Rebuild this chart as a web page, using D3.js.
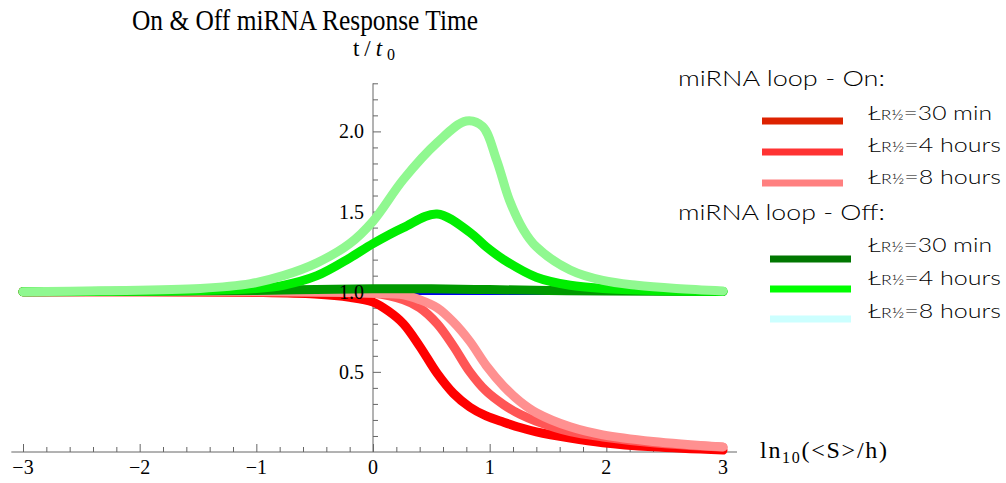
<!DOCTYPE html>
<html>
<head lang="en">
    <meta charset="UTF-8">
    <title> miRNA response time </title>
    <script type="text/javascript" src="https://cdn.jsdelivr.net/npm/d3@7"></script>
    <style>
        body { margin: 0; background: #fff; }
    </style>
</head>
<body>
<div id="chart"></div>
<script>

    // x = ln10(<S>/h), y = t/t0
    var onX30  = [-3, -2, -1, -0.5, -0.2, 0, 0.13, 0.26, 0.4, 0.55, 0.69, 0.83, 0.97, 1.12, 1.26, 1.4, 1.69, 1.97, 2.4, 3];
    var onY30  = [1.0, 0.999, 0.995, 0.985, 0.965, 0.935, 0.88, 0.8, 0.66, 0.49, 0.365, 0.28, 0.225, 0.186, 0.153, 0.126, 0.087, 0.058, 0.032, 0.012];

    var onX4h  = [-3, -2, -1, -0.5, 0, 0.26, 0.4, 0.55, 0.69, 0.83, 0.97, 1.12, 1.26, 1.4, 1.69, 1.97, 2.4, 3];
    var onY4h  = [1.0, 1.0, 0.999, 0.997, 0.99, 0.95, 0.9, 0.8, 0.66, 0.5, 0.38, 0.295, 0.235, 0.192, 0.127, 0.094, 0.058, 0.03];

    var onX8h  = [-3, -2, -1, -0.5, 0, 0.26, 0.4, 0.55, 0.69, 0.83, 0.97, 1.12, 1.26, 1.4, 1.69, 1.97, 2.4, 3];
    var onY8h  = [1.0, 1.0, 0.999, 0.998, 0.99, 0.98, 0.95, 0.9, 0.81, 0.69, 0.54, 0.41, 0.315, 0.245, 0.157, 0.107, 0.066, 0.032];

    var offX30 = [-3, -2, -1, 0, 0.5, 1, 1.5, 2, 3];
    var offY30 = [1.0, 1.003, 1.008, 1.018, 1.018, 1.013, 1.008, 1.004, 1.001];

    var offX4h = [-3, -2, -1.5, -1, -0.77, -0.48, -0.2, 0, 0.26, 0.55, 0.83, 0.97, 1.12, 1.4, 1.69, 1.97, 2.4, 3];
    var offY4h = [1.0, 1.003, 1.008, 1.02, 1.04, 1.1, 1.21, 1.3, 1.4, 1.485, 1.37, 1.28, 1.2, 1.09, 1.04, 1.02, 1.008, 1.002];

    var offX8h = [-3, -2.34, -1.48, -1.05, -0.77, -0.48, -0.2, 0, 0.26, 0.55, 0.8, 0.94, 1.06, 1.17, 1.29, 1.4, 1.69, 1.97, 2.26, 2.6, 3];
    var offY8h = [1.0, 1.006, 1.02, 1.05, 1.1, 1.18, 1.3, 1.44, 1.7, 1.93, 2.065, 2.03, 1.82, 1.57, 1.385, 1.28, 1.135, 1.07, 1.04, 1.02, 1.005];

    var baseX  = [0, 3];
    var baseY  = [0.995, 0.995];

    var xTicks = [-3, -2, -1, 0, 1, 2, 3];
    var yTicks = [0.5, 1.0, 1.5, 2.0];

    var legendOn  = ["30 min", "4 hours", "8 hours"];
    var legendOff = ["30 min", "4 hours", "8 hours"];

    // drawing order: first is at the bottom
    var series = [
        { xs: baseX,  ys: baseY,  color: "#0000ee", w: 5 },
        { xs: onX30,  ys: onY30,  color: "#ff0000", w: 9 },
        { xs: onX4h,  ys: onY4h,  color: "#ff5555", w: 9 },
        { xs: onX8h,  ys: onY8h,  color: "#ff9090", w: 9 },
        { xs: offX30, ys: offY30, color: "#009900", w: 9 },
        { xs: offX4h, ys: offY4h, color: "#00ee00", w: 9 },
        { xs: offX8h, ys: offY8h, color: "#90f890", w: 9 }
    ];

    var swatchOn  = ["#dd2200", "#ff3333", "#ff8080"];
    var swatchOff = ["#007700", "#00ff00", "#ccffff"];

    var width = 1006, height = 483;

    var svg = d3.select("#chart").append("svg")
            .attr("width", width)
            .attr("height", height);

    var x = d3.scaleLinear().domain([-3, 3]).range([23, 723]);
    var y = d3.scaleLinear().domain([0, 1]).range([452, 291.7]);

    var serif = "'Liberation Serif', 'Times New Roman', serif";
    var hand  = "Lato, 'Open Sans', sans-serif";

    // title
    svg.append("text")
            .attr("x", 132).attr("y", 30)
            .attr("textLength", 346).attr("lengthAdjust", "spacingAndGlyphs")
            .style("font-family", serif).style("font-size", "30px")
            .text("On & Off miRNA Response Time");

    var line = d3.line()
            .x(function (d) { return x(d[0]); })
            .y(function (d) { return y(d[1]); })
            .curve(d3.curveCatmullRom.alpha(0.5));

    // axes
    var axisCol = "#666";
    var yAxis = d3.axisRight(y)
            .tickValues(d3.range(0.1, 2.31, 0.1))
            .tickSize(5)
            .tickFormat("");
    var gy = svg.append("g").attr("transform", "translate(" + x(0) + ",0)").call(yAxis);
    gy.selectAll(".tick line")
            .attr("x2", function (d) { return Math.abs(d * 2 - Math.round(d * 2)) < 1e-6 ? 8 : 5; });
    gy.select(".domain").attr("d", "M0," + y(0) + "V" + y(2.3));

    var xAxis = d3.axisTop(x)
            .tickValues(d3.range(-3, 3.01, 0.2))
            .tickSize(5)
            .tickFormat("");
    var gx = svg.append("g").attr("transform", "translate(0," + y(0) + ")").call(xAxis);
    gx.selectAll(".tick line")
            .attr("y2", function (d) { return Math.abs(d - Math.round(d)) < 1e-6 ? -8 : -5; });
    gx.select(".domain").attr("d", "M" + x(-3.1) + ",0H" + x(3.12));

    svg.selectAll(".domain, .tick line").attr("stroke", axisCol).attr("stroke-width", 1);

    // curves
    svg.selectAll(".curve").data(series).enter().append("path")
            .attr("class", "curve")
            .attr("d", function (s) { return line(d3.zip(s.xs, s.ys)); })
            .attr("fill", "none")
            .attr("stroke", function (s) { return s.color; })
            .attr("stroke-width", function (s) { return s.w; })
            .attr("stroke-linecap", "round")
            .attr("stroke-linejoin", "round");

    // tick labels (on top of curves)
    svg.selectAll(".ylab").data(yTicks).enter().append("text")
            .attr("class", "ylab")
            .attr("x", x(0) - 9).attr("y", function (d) { return y(d) + 7; })
            .attr("text-anchor", "end")
            .style("font-family", serif).style("font-size", "20px")
            .text(function (d) { return d.toFixed(1); });

    svg.selectAll(".xlab").data(xTicks).enter().append("text")
            .attr("class", "xlab")
            .attr("x", function (d) { return x(d); }).attr("y", y(0) + 22)
            .attr("text-anchor", "middle")
            .style("font-family", serif).style("font-size", "20px")
            .text(function (d) { return d < 0 ? "\u2212" + (-d) : d; });

    // axis titles
    var yt = svg.append("text").attr("x", 353).attr("y", 56)
            .attr("textLength", 42).attr("lengthAdjust", "spacing")
            .style("font-family", serif).style("font-size", "23px");
    yt.append("tspan").text("t/");
    yt.append("tspan").style("font-style", "italic").text("t");
    yt.append("tspan").attr("dy", 4).style("font-size", "16px").text("0");

    var xt = svg.append("text").attr("x", 760).attr("y", 458)
            .attr("textLength", 127).attr("lengthAdjust", "spacing")
            .style("font-family", serif).style("font-size", "24px");
    xt.append("tspan").text("ln");
    xt.append("tspan").attr("dy", 5).style("font-size", "16px").text("10");
    xt.append("tspan").attr("dy", -5).text("(<S>/h)");

    // legend
    function legendBlock(header, hy, labels, colors, sx, sy, ty) {
        svg.append("text").attr("x", 678).attr("y", hy)
                .attr("textLength", 207).attr("lengthAdjust", "spacingAndGlyphs")
                .style("font-family", hand).style("font-size", "21px").style("font-weight", 300)
                .text(header);
        labels.forEach(function (lab, i) {
            svg.append("line")
                    .attr("x1", sx).attr("x2", sx + 81)
                    .attr("y1", sy[i]).attr("y2", sy[i])
                    .attr("stroke", colors[i]).attr("stroke-width", 7);
            var t = svg.append("text").attr("x", 868).attr("y", ty[i])
                    .attr("textLength", lab.indexOf("min") >= 0 ? 124 : 133)
                    .attr("lengthAdjust", "spacingAndGlyphs")
                    .style("font-family", hand).style("font-size", "20px").style("font-weight", 300);
            t.append("tspan").text("\u0141");
            t.append("tspan").style("font-size", "14px").text("R\u00bd");
            t.append("tspan").text("=" + lab.replace(" ", "  "));
        });
    }
    legendBlock("miRNA loop - On:", 86, legendOn, swatchOn, 762, [121, 152, 183], [120, 152, 184]);
    legendBlock("miRNA loop - Off:", 220, legendOff, swatchOff, 770, [259, 289, 319], [252, 285, 318]);

</script>
</body>
</html>
